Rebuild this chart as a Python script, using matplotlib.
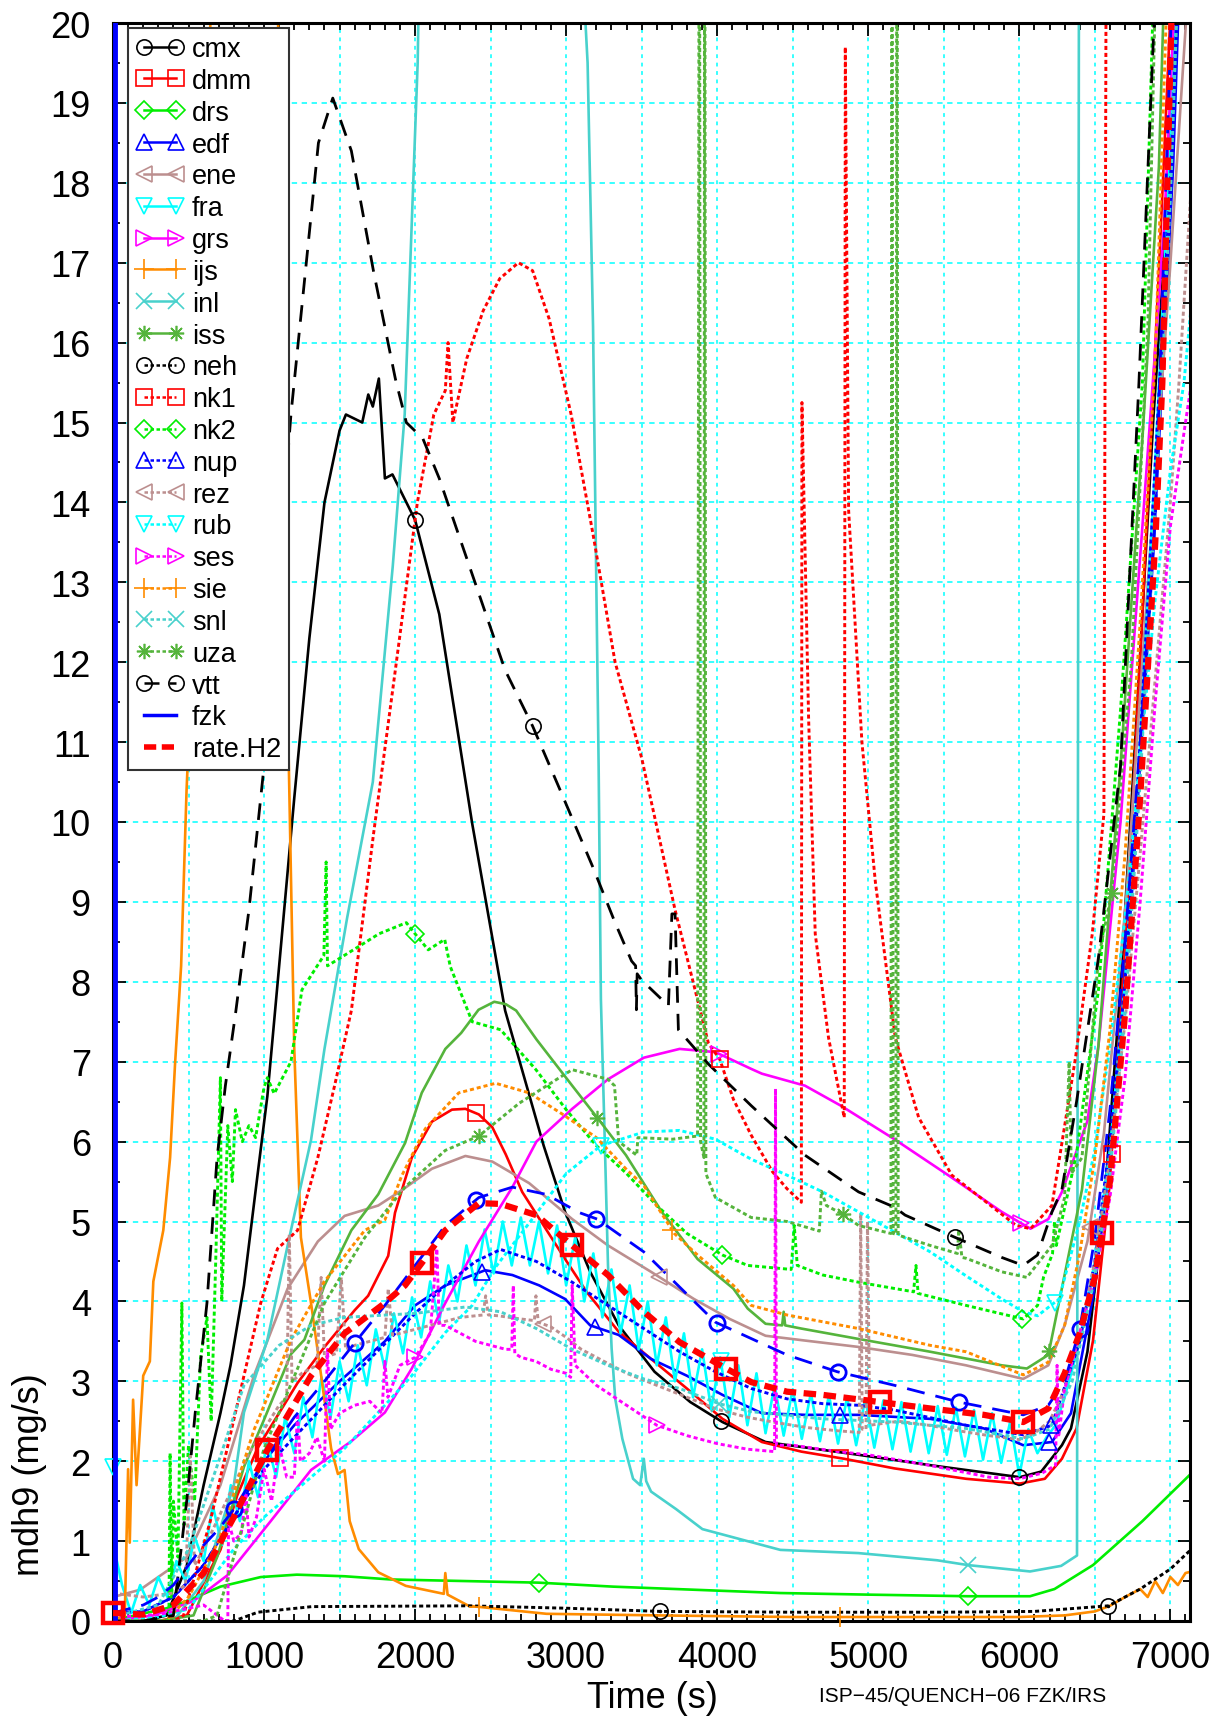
import numpy as np
import matplotlib
matplotlib.use('Agg')
import matplotlib.pyplot as plt
from matplotlib.lines import Line2D
from matplotlib.ticker import MultipleLocator

plt.rcParams['font.family'] = ['Liberation Sans', 'DejaVu Sans']

# ---------------- data (time s, mdh9 mg/s) ----------------
cmx_pts = [(0,0.0),(200,0.0),(356,0.07),(489,0.7),(600,1.7),(711,2.6),(778,3.2),(867,4.2),(956,5.57),
           (1022,6.57),(1100,8.2),(1200,10.3),(1300,12.3),(1400,14.0),(1500,14.9),(1542,15.1),(1650,15.0),
           (1690,15.35),(1720,15.2),(1760,15.55),(1800,14.3),(1850,14.35),(2000,13.78),(2160,12.6),(2378,9.98),
           (2596,7.64),(2732,6.74),(2851,5.95),(2993,5.12),(3159,4.37),(3348,3.7),(3585,3.12),(3822,2.74),
           (4035,2.49),(4320,2.24),(4936,2.08),(5410,1.95),(6003,1.8),(6145,1.87),(6282,2.2),(6342,2.41),
           (6451,3.37),(6560,5.16),(6669,7.9),(6778,11.36),(6888,15.07),(6975,17.5),(7033,20.5)]
cmx_mk = [2000, 4022, 6000]

dmm_pts = [(0,0.0),(300,0.0),(489,0.07),(711,0.89),(822,1.57),(956,2.16),(1222,2.98),(1400,3.43),(1600,3.89),
           (1689,4.07),(1822,4.57),(1867,5.11),(1978,5.8),(2111,6.25),(2244,6.4),(2333,6.41),(2422,6.34),
           (2511,6.18),(2600,5.84),(2709,5.37),(2851,4.95),(2993,4.53),(3135,4.12),(3348,3.62),(3562,3.28),
           (3799,2.91),(4035,2.53),(4296,2.24),(4557,2.12),(4841,2.03),(5173,1.91),(5647,1.78),(6003,1.72),
           (6169,1.78),(6282,2.03),(6379,2.41),(6488,3.51),(6597,5.44),(6706,8.6),(6815,12.6),(6924,16.9),(7010,20.5)]
dmm_mk = [2400, 4815, 6611]

drs_pts = [(0,0.02),(100,0.05),(356,0.16),(489,0.25),(711,0.43),(978,0.55),(1217,0.58),(1533,0.56),(1838,0.52),
           (2817,0.48),(3311,0.43),(4418,0.35),(5000,0.33),(5659,0.31),(6071,0.31),(6233,0.4),(6488,0.7),
           (6815,1.25),(7140,1.85)]
drs_mk = [2817, 5659]

edf_pts = [(0,0.1),(200,0.12),(400,0.3),(600,0.7),(800,1.3),(1000,2.0),(1200,2.45),(1500,3.0),(1800,3.5),
           (2000,3.95),(2200,4.2),(2464,4.39),(2644,4.33),(2822,4.2),(2993,4.03),(3159,3.7),(3348,3.58),
           (3562,3.28),(3799,3.07),(4035,2.83),(4296,2.6),(4581,2.58),(4936,2.58),(5410,2.53),(5766,2.41),
           (6026,2.2),(6216,2.24),(6342,2.6),(6488,4.06),(6597,5.7),(6742,9.0),(6888,13.4),(7018,18.2),(7060,20.5)]
edf_mk = [2440, 3193, 4815, 6197]

ene_pts = [(0,0.3),(178,0.39),(489,0.8),(711,1.7),(933,3.07),(1156,4.16),(1356,4.75),(1533,5.07),(1756,5.2),
           (1911,5.39),(2111,5.66),(2333,5.82),(2511,5.75),(2755,5.48),(3040,5.03),(3277,4.7),(3562,4.37),
           (3846,4.03),(4083,3.78),(4320,3.57),(4581,3.51),(4936,3.43),(5292,3.33),(5647,3.2),(6026,3.03),
           (6192,3.2),(6300,3.7),(6451,4.75),(6560,6.1),(6706,9.0),(6851,13.0),(6997,16.9),(7120,20.5)]
ene_mk = [3615, 6466]

fra_t = [0, 20] + list(range(60, 6181, 60)) + [6240, 6300, 6400, 6500, 6600, 6700, 6800, 6900, 7000, 7040]
fra_y = [1.93, 0.8,
         0.45, 0.10, 0.45, 0.20, 0.55, 0.30, 0.75, 0.50, 1.05, 0.75, 1.45, 0.95, 1.70, 1.25, 2.00, 1.55,
         2.25, 1.80, 2.55, 2.10, 2.80, 2.30, 3.05, 2.55, 3.25, 2.75, 3.45, 2.95, 3.65, 3.15, 3.85, 3.35,
         4.05, 3.55, 4.25, 3.75, 4.45, 4.00, 4.70, 4.20, 4.90, 4.35, 5.00, 4.45, 5.05, 4.45, 5.00, 4.35,
         4.95, 4.20, 4.80, 4.00, 4.60, 3.80, 4.40, 3.60, 4.20, 3.40, 4.00, 3.20, 3.80, 3.00, 3.60, 2.80,
         3.40, 2.65, 3.30, 2.55, 3.20, 2.45, 3.10, 2.35, 2.95, 2.32, 2.90, 2.28, 2.85, 2.25, 2.83, 2.22,
         2.80, 2.20, 2.78, 2.17, 2.76, 2.15, 2.74, 2.12, 2.71, 2.10, 2.69, 2.08, 2.67, 2.06, 2.64, 2.02,
         2.60, 1.98, 2.50, 1.82, 2.40, 2.10, 2.30,
         2.45, 2.8, 3.5, 4.5, 5.9, 8.0, 11.0, 14.5, 18.5, 20.5]
fra_mk = [0, 4024]

grs_pts = [(0,0.0),(267,0.07),(533,0.25),(756,0.57),(1044,1.25),(1311,1.89),(1578,2.25),(1800,2.61),
           (1978,3.16),(2200,3.98),(2422,4.75),(2644,5.43),(2803,6.0),(3040,6.41),(3277,6.78),(3514,7.05),
           (3751,7.16),(3988,7.12),(4225,6.91),(4296,6.85),(4581,6.7),(4818,6.45),(5173,6.03),(5529,5.58),
           (5884,5.12),(6074,4.91),(6192,5.03),(6282,5.37),(6451,6.26),(6524,7.2),(6670,10.0),(6815,13.7),
           (6960,17.5),(7033,20.5)]
grs_mk = [4015, 6014]

ijs_pts = [(0,0.0),(78,0.07),(100,1.9),(111,0.98),(133,2.77),(156,1.7),(200,3.07),(244,3.25),(267,4.25),
           (333,4.89),(378,5.8),(411,6.98),(451,8.2),(487,10.4),(524,12.0),(600,16.0),(650,20.5),(1090,20.5),
           (1130,14.0),(1156,11.5),(1200,7.16),(1244,4.8),(1311,3.98),(1378,3.07),(1444,2.16),(1489,1.84),
           (1533,1.89),(1567,1.25),(1627,0.9),(1756,0.61),(1938,0.44),(2190,0.34),(2200,0.6),(2215,0.33),
           (2354,0.19),(2870,0.09),(3615,0.07),(4500,0.05),(5500,0.05),(6000,0.05),(6300,0.07),(6500,0.12),
           (6600,0.19),(6700,0.3),(6800,0.4),(6850,0.3),(6900,0.5),(6950,0.35),(7000,0.55),(7050,0.45),
           (7100,0.6),(7140,0.62)]
ijs_mk = [2422, 4815]

inl_pts = [(0,0.0),(400,0.0),(600,0.5),(800,1.7),(867,2.61),(1022,3.52),(1178,4.89),(1311,6.02),(1400,7.16),
           (1550,8.8),(1720,10.5),(1852,13.2),(1931,15.1),(2017,19.5),(2030,21.0),(3100,21.0),(3142,19.5),
           (3178,16.2),(3215,10.7),(3230,7.78),(3254,6.12),(3277,4.45),(3301,3.41),(3325,2.78),(3372,2.28),
           (3443,1.78),(3490,1.7),(3514,2.03),(3530,1.75),(3562,1.62),(3728,1.4),(3902,1.15),(4418,0.89),
           (4934,0.85),(5456,0.76),(5659,0.7),(6071,0.62),(6277,0.69),(6382,0.82),(6395,21.0)]
inl_mk = [5659]

iss_pts = [(0,0.0),(300,0.0),(533,0.07),(689,0.8),(867,1.93),(1000,2.52),(1178,3.34),(1267,3.52),(1400,4.2),
           (1578,4.89),(1756,5.34),(1933,5.98),(2044,6.61),(2200,7.16),(2305,7.36),(2420,7.65),(2524,7.75),
           (2600,7.72),(2669,7.64),(2803,7.28),(3040,6.7),(3230,6.24),(3396,5.83),(3633,5.12),(3870,4.53),
           (4107,4.16),(4202,3.91),(4320,3.72),(4430,3.7),(4440,3.87),(4450,3.7),(4557,3.66),(4936,3.53),
           (5410,3.37),(5884,3.2),(6050,3.16),(6192,3.33),(6415,5.4),(6524,7.2),(6670,10.7),(6815,14.8),
           (6924,18.2),(6960,20.5)]
iss_mk = [3206, 6197]

neh_pts = [(0,0.0),(800,0.0),(959,0.11),(1317,0.18),(2354,0.19),(3000,0.16),(3624,0.12),(4500,0.11),
           (5500,0.11),(6100,0.12),(6590,0.19),(6800,0.4),(7000,0.65),(7140,0.9)]
neh_mk = [3624, 6590]

nk1_pts = [(0,0.0),(400,0.0),(467,0.07),(644,1.25),(756,2.16),(867,3.07),(978,3.98),(1089,4.66),(1222,4.89),
           (1356,5.8),(1467,6.7),(1578,7.64),(1724,9.84),(1869,11.9),(2015,14.0),(2124,15.1),(2200,15.4),
           (2218,16.0),(2250,15.0),(2342,15.8),(2451,16.4),(2560,16.8),(2684,17.0),(2778,16.9),(2887,16.3),
           (3033,15.1),(3178,13.6),(3324,12.0),(3500,10.8),(3721,8.9),(3942,7.23),(4017,7.03),(4107,6.53),
           (4225,6.08),(4367,5.62),(4462,5.41),(4557,5.24),(4561,15.25),(4605,11.3),(4649,8.6),(4737,7.3),
           (4841,6.3),(4848,19.7),(4870,13.9),(4958,11.0),(5047,9.25),(5179,7.3),(5334,6.3),(5553,5.58),
           (5979,4.95),(6074,4.91),(6216,5.2),(6372,7.05),(6483,8.6),(6560,10.1),(6575,21.0)]
nk1_mk = [4017]

nk2_pts = [(0,0.0),(370,0.0),(378,2.1),(389,0.3),(400,1.5),(430,0.8),(456,3.98),(470,1.2),(500,2.2),
           (540,1.5),(580,3.3),(622,3.8),(650,2.5),(680,4.5),(711,6.8),(720,4.0),(760,6.2),(790,5.5),
           (811,6.4),(856,6.0),(900,6.2),(944,6.05),(1000,6.68),(1022,6.8),(1067,6.6),(1178,7.0),(1251,7.9),
           (1396,8.33),(1411,9.5),(1420,8.2),(1651,8.47),(1760,8.6),(1942,8.74),(2000,8.6),(2087,8.4),
           (2196,8.53),(2233,8.19),(2378,7.5),(2566,7.4),(2800,6.9),(3000,6.4),(3200,5.95),(3400,5.6),
           (3600,5.2),(3800,4.85),(4035,4.58),(4202,4.45),(4490,4.4),(4510,4.95),(4530,4.45),(4699,4.33),
           (4936,4.24),(5300,4.12),(5316,4.45),(5330,4.1),(5647,3.95),(6026,3.78),(6121,3.95),(6160,4.3),
           (6220,4.6),(6233,5.0),(6245,4.7),(6379,5.85),(6524,7.9),(6670,11.4),(6815,15.5),(6890,20.5)]
nk2_mk = [2000, 4035, 6015]

nup_pts = [(0,0.1),(200,0.12),(400,0.3),(600,0.7),(800,1.3),(1000,1.9),(1500,2.9),(2000,3.85),(2200,4.2),
           (2400,4.5),(2566,4.65),(2803,4.5),(3040,4.24),(3277,3.95),(3514,3.66),(3751,3.37),(3988,3.12),
           (4225,2.91),(4462,2.78),(4699,2.72),(4936,2.7),(5173,2.64),(5647,2.45),(6026,2.33),(6216,2.45),
           (6400,3.5),(6500,4.5),(6600,6.0),(6700,8.0),(6800,11.0),(6900,14.5),(7000,18.0),(7050,20.5)]
nup_mk = [6213]

rez_pts = [(0,0.35),(200,0.3),(400,0.35),(480,0.45),(511,2.07),(540,0.7),(600,0.9),(700,1.3),(800,1.7),
           (900,2.1),(1000,2.4),(1100,2.7),(1150,2.8),(1167,4.84),(1185,3.0),(1250,3.1),(1350,3.2),(1378,4.3),
           (1400,3.3),(1480,3.35),(1511,4.3),(1540,3.4),(1600,3.45),(1700,3.5),(1800,3.55),(1822,4.16),
           (1850,3.58),(1900,3.6),(2000,3.65),(2100,3.7),(2200,3.75),(2300,3.8),(2400,3.82),(2450,3.83),
           (2467,4.07),(2485,3.83),(2550,3.82),(2700,3.78),(2790,3.76),(2800,4.07),(2815,3.74),(2900,3.68),
           (3000,3.55),(3100,3.4),(3200,3.3),(3400,3.1),(3600,2.95),(3800,2.8),(4000,2.65),(4200,2.55),
           (4400,2.48),(4600,2.42),(4800,2.38),(4940,2.36),(4950,5.1),(4960,2.4),(4985,2.4),(4995,5.0),
           (5010,2.45),(5200,2.5),(5400,2.45),(5600,2.38),(5800,2.32),(6000,2.27),(6100,2.35),(6200,2.5),
           (6300,2.9),(6400,3.6),(6500,4.5),(6600,5.8),(6700,7.5),(6800,9.6),(6900,11.8),(7000,14.0),
           (7057,15.5),(7140,18.0)]
rez_mk = [2844]

rub_pts = [(0,0.0),(300,0.05),(500,0.15),(600,0.4),(800,0.9),(1000,1.3),(1250,1.7),(1533,2.16),(1800,2.7),
           (1978,3.07),(2200,3.61),(2378,3.95),(2533,4.43),(2755,4.98),(3000,5.6),(3230,5.95),(3514,6.12),
           (3751,6.14),(3988,6.03),(4225,5.78),(4462,5.58),(4699,5.37),(4936,5.12),(5173,4.87),(5410,4.62),
           (5647,4.32),(5884,4.03),(6026,3.87),(6121,3.82),(6263,4.03),(6400,5.0),(6500,5.9),(6600,7.2),
           (6700,8.8),(6800,10.8),(6900,12.8),(7000,14.4),(7090,15.5),(7140,16.5)]
rub_mk = [3230, 6233]

ses_pts = [(0,0.05),(300,0.08),(600,0.2),(740,0.0),(760,0.0),(765,1.25),(800,1.0),(850,1.1),(880,1.6),
           (900,1.05),(950,1.3),(1000,1.9),(1050,1.5),(1100,2.2),(1150,1.8),(1200,1.8),(1222,2.6),(1240,2.0),
           (1300,2.1),(1350,2.3),(1400,2.0),(1420,3.4),(1440,2.4),(1500,2.6),(1600,2.7),(1700,2.75),
           (1780,2.6),(1800,3.25),(1820,2.8),(1900,3.2),(2000,3.3),(2100,3.6),(2144,4.66),(2160,3.7),
           (2200,3.7),(2300,3.6),(2400,3.5),(2500,3.45),(2600,3.4),(2640,3.4),(2650,4.2),(2660,3.35),
           (2700,3.3),(2800,3.25),(2900,3.15),(3000,3.1),(3030,3.05),(3040,4.2),(3060,3.2),(3200,2.95),
           (3400,2.7),(3600,2.45),(3800,2.32),(4000,2.22),(4200,2.15),(4380,2.12),(4386,6.66),(4392,2.2),
           (4500,2.2),(4800,2.12),(5000,2.08),(5400,1.95),(5800,1.8),(6000,1.78),(6150,1.85),(6240,1.95),
           (6250,3.2),(6260,2.3),(6300,2.9),(6400,3.6),(6500,4.3),(6600,5.3),(6700,6.8),(6800,9.0),
           (6900,11.5),(7000,13.7),(7100,15.0),(7140,15.5)]
ses_mk = [2000, 3600]

sie_pts = [(0,0.0),(350,0.0),(500,0.3),(700,1.0),(933,2.39),(1178,3.52),(1400,4.25),(1667,4.89),(1800,5.02),
           (1911,5.57),(2067,6.16),(2289,6.61),(2533,6.73),(2755,6.61),(2978,6.34),(3200,6.05),(3400,5.65),
           (3514,5.45),(3716,4.85),(3870,4.58),(4107,4.2),(4225,3.95),(4462,3.83),(4936,3.66),(5410,3.45),
           (5647,3.37),(6026,3.08),(6192,3.24),(6300,3.7),(6400,4.6),(6500,5.8),(6600,7.4),(6700,9.6),
           (6800,12.5),(6900,15.8),(6980,20.5)]
sie_mk = [3700]

snl_pts = [(0,0.05),(300,0.2),(500,0.9),(700,2.0),(867,2.95),(1100,3.45),(1311,3.7),(1533,3.8),(2000,3.85),
           (2333,3.93),(2566,3.87),(2803,3.66),(3040,3.4),(3277,3.2),(3514,3.03),(3751,2.91),(4012,2.72),
           (4225,2.62),(4699,2.53),(5173,2.49),(5647,2.41),(6026,2.28),(6200,2.4),(6350,3.0),(6500,4.3),
           (6600,5.6),(6700,7.6),(6800,10.5),(6900,14.0),(7000,17.8),(7050,20.5)]
snl_mk = [4012]

uza_pts = [(0,0.0),(600,0.0),(689,0.07),(867,1.25),(1000,2.16),(1222,3.16),(1400,3.98),(1667,4.8),(1933,5.43),
           (2200,5.89),(2422,6.07),(2689,6.48),(2955,6.8),(3040,6.9),(3277,6.78),(3320,6.7),(3348,6.0),
           (3467,5.83),(3475,6.05),(3704,6.03),(3870,6.07),(3882,25.0),(3890,6.0),(3912,5.8),(3917,25.0),
           (3925,5.6),(3988,5.3),(4225,5.05),(4462,5.0),(4676,4.88),(4690,5.38),(4723,5.2),(4841,5.08),
           (4936,4.95),(5150,4.85),(5157,25.0),(5165,4.85),(5183,4.84),(5190,25.0),(5198,4.83),(5410,4.7),
           (5590,4.6),(5600,4.9),(5620,4.55),(5647,4.54),(5884,4.37),(6050,4.3),(6216,4.7),(6300,5.3),
           (6330,7.0),(6345,5.6),(6415,5.8),(6524,8.3),(6611,9.11),(6742,12.0),(6851,16.2),(6902,20.5)]
uza_mk = [2420, 4830, 6611]

vtt_pts = [(0,0.0),(200,0.0),(400,0.07),(489,1.52),(544,2.6),(622,3.98),(689,5.8),(744,6.7),(811,7.6),
           (900,8.9),(1000,10.7),(1178,15.1),(1360,18.5),(1455,19.06),(1578,18.4),(1724,16.9),(1869,15.55),
           (1942,15.0),(2051,14.8),(2160,14.3),(2378,13.1),(2596,11.9),(2778,11.2),(2960,10.4),(3178,9.43),
           (3324,8.74),(3433,8.26),(3460,8.2),(3465,7.65),(3470,8.1),(3500,8.02),(3677,7.7),(3700,8.85),
           (3721,8.85),(3743,7.4),(3942,6.97),(4225,6.45),(4581,5.83),(4936,5.37),(5173,5.18),(5244,5.08),
           (5576,4.8),(5884,4.55),(6026,4.45),(6120,4.58),(6216,5.12),(6282,5.4),(6379,6.5),(6524,8.3),
           (6670,10.7),(6792,15.5),(6903,20.5)]
vtt_mk = [2778, 5576]

fzk_pts = [(12,0.0),(12,25.0)]

edf2_pts = [(0,0.1),(100,0.15),(200,0.2),(300,0.3),(400,0.45),(500,0.7),(600,0.95),(700,1.15),(800,1.4),
            (1000,2.0),(1200,2.55),(1400,3.0),(1600,3.48),(1800,3.95),(2000,4.45),(2200,4.95),(2422,5.3),
            (2644,5.43),(2867,5.34),(3089,5.11),(3206,5.03),(3514,4.62),(3988,3.74),(4462,3.33),(4794,3.12),
            (5173,2.95),(5600,2.74),(6026,2.58),(6192,2.7),(6300,3.0),(6400,3.65),(6500,4.8),(6600,6.4),
            (6700,8.5),(6800,11.0),(6900,13.8),(7013,20.5)]
edf2_mk = [800, 1600, 2400, 3200, 4000, 4800, 5600, 6400]

rate_pts = [(0,0.1),(200,0.08),(400,0.2),(600,0.6),(800,1.3),(1022,2.14),(1311,3.07),(1533,3.6),(1800,3.98),
            (1933,4.2),(2044,4.48),(2200,4.89),(2422,5.23),(2566,5.22),(2803,5.08),(3040,4.7),(3277,4.33),
            (3514,3.87),(3751,3.49),(4059,3.16),(4225,2.99),(4462,2.87),(4699,2.83),(5078,2.74),(5410,2.66),
            (5766,2.58),(6026,2.49),(6192,2.66),(6300,3.1),(6400,3.6),(6500,4.3),(6600,5.5),(6700,7.6),
            (6800,10.3),(6900,13.5),(6947,15.5),(7013,20.5)]
rate_mk = [0, 1022, 2044, 3040, 4059, 5078, 6026, 6546]

# ---------------- styling ----------------
BLACK, RED, GREEN, BLUE = '#000000', '#ff0000', '#00ee00', '#0000ff'
ROSY, CYAN, MAG, ORANGE = '#bc8f8f', '#00ffff', '#ff00ff', '#ff8c00'
TURQ, YGREEN = '#48d1cc', '#55b43c'
SOLID = '-'
DOT = (0, (1.4, 1.0))
AST = (8, 2, 0)

series = [
    ('cmx', cmx_pts, cmx_mk, BLACK, SOLID, 'o'),
    ('dmm', dmm_pts, dmm_mk, RED, SOLID, 's'),
    ('drs', drs_pts, drs_mk, GREEN, SOLID, 'D'),
    ('edf', edf_pts, edf_mk, BLUE, SOLID, '^'),
    ('ene', ene_pts, ene_mk, ROSY, SOLID, '<'),
    ('fra', list(zip(fra_t, fra_y)), fra_mk, CYAN, SOLID, 'v'),
    ('grs', grs_pts, grs_mk, MAG, SOLID, '>'),
    ('ijs', ijs_pts, ijs_mk, ORANGE, SOLID, '+'),
    ('inl', inl_pts, inl_mk, TURQ, SOLID, 'x'),
    ('iss', iss_pts, iss_mk, YGREEN, SOLID, AST),
    ('neh', neh_pts, neh_mk, BLACK, DOT, 'o'),
    ('nk1', nk1_pts, nk1_mk, RED, DOT, 's'),
    ('nk2', nk2_pts, nk2_mk, GREEN, DOT, 'D'),
    ('nup', nup_pts, nup_mk, BLUE, DOT, '^'),
    ('rez', rez_pts, rez_mk, ROSY, DOT, '<'),
    ('rub', rub_pts, rub_mk, CYAN, DOT, 'v'),
    ('ses', ses_pts, ses_mk, MAG, DOT, '>'),
    ('sie', sie_pts, sie_mk, ORANGE, DOT, '+'),
    ('snl', snl_pts, snl_mk, TURQ, DOT, 'x'),
    ('uza', uza_pts, uza_mk, YGREEN, DOT, AST),
    ('vtt', vtt_pts, vtt_mk, BLACK, (0, (6.0, 4.0)), 'o'),
]

W, H = 1218, 1724
fig = plt.figure(figsize=(W / 100, H / 100), dpi=100)
ax = fig.add_axes([113 / W, 1 - 1622 / H, (1190 - 113) / W, (1622 - 24) / H])
ax.set_xlim(0, 7130)
ax.set_ylim(0, 20)

# grid
for g in range(500, 7001, 500):
    ax.axvline(g, color=CYAN, lw=1.1, ls=(0, (2.5, 3)), zorder=0.5)
for g in range(1, 20):
    ax.axhline(g, color=CYAN, lw=1.1, ls=(0, (3.5, 3)), zorder=0.5)

handles = []
MS = 11
for name, pts, mk, col, ls, m in series:
    t = np.array([p[0] for p in pts], float)
    y = np.array([p[1] for p in pts], float)
    lw = 1.9 if ls == SOLID else 2.1
    if name == 'vtt':
        lw = 2.0
    ax.plot(t, y, color=col, lw=lw, ls=ls, zorder=2)
    ms = MS if m not in ('D',) else 9
    if m == '+':
        ms = 14
    my = np.interp(mk, t, y)
    ax.plot(mk, my, ls='none', marker=m, ms=ms, mfc='none', mec=col, mew=1.2, zorder=3, clip_on=False)
    if name == 'neh':
        ax.plot(mk, my, ls='none', marker='.', ms=3, color=col, zorder=3)
    handles.append(Line2D([], [], color=col, lw=min(lw, 1.8), ls=ls, marker=m, ms=ms, mfc='none', mec=col,
                          mew=1.2, label=name))

# unlabeled blue dashed with circles
t = np.array([p[0] for p in edf2_pts], float)
y = np.array([p[1] for p in edf2_pts], float)
ax.plot(t, y, color=BLUE, lw=2.0, ls=(0, (6.5, 4)), zorder=2.5)
ax.plot(edf2_mk, np.interp(edf2_mk, t, y), ls='none', marker='o', ms=11, mfc='none', mec=BLUE, mew=2.0, zorder=3)

# fzk
t = np.array([p[0] for p in fzk_pts], float)
y = np.array([p[1] for p in fzk_pts], float)
ax.plot(t, y, color=BLUE, lw=3.5, zorder=4)
handles.append(Line2D([], [], color=BLUE, lw=2.5, label='fzk'))

# rate.H2
t = np.array([p[0] for p in rate_pts], float)
y = np.array([p[1] for p in rate_pts], float)
ax.plot(t, y, color=RED, lw=4.5, ls=(0, (2.0, 1.2)), zorder=5)
ax.plot(rate_mk, np.interp(rate_mk, t, y), ls='none', marker='s', ms=14, mfc='none', mec=RED, mew=3.2,
        zorder=5, clip_on=False)
handles.append(Line2D([], [], color=RED, lw=4.0, ls=(0, (2.2, 1.0)), label='rate.H2'))

# axes styling
ax.xaxis.set_major_locator(MultipleLocator(1000))
ax.xaxis.set_minor_locator(MultipleLocator(100))
ax.yaxis.set_major_locator(MultipleLocator(1))
ax.yaxis.set_minor_locator(MultipleLocator(0.5))
ax.tick_params(which='both', direction='in', top=True, right=True, width=1.3)
ax.tick_params(which='major', length=9, labelsize=26)
ax.tick_params(which='minor', length=5)
ax.tick_params(axis='x', which='major', pad=14)
ax.tick_params(axis='y', which='major', pad=16)
for s in ax.spines.values():
    s.set_linewidth(2.2)

leg = ax.legend(handles=handles, loc='upper left', bbox_to_anchor=(15 / 1077, 1 - 5 / 1598),
                borderaxespad=0, numpoints=2, handlelength=1.78, handletextpad=0.28, labelspacing=0.215,
                fontsize=19.5, frameon=True, fancybox=False, framealpha=1, edgecolor='#333333',
                borderpad=0.3)
leg.get_frame().set_linewidth(1.5)
leg.set_zorder(10)

fig.text(30 / W, 1 - 1475 / H, 'mdh9 (mg/s)', rotation=90, ha='center', va='center', fontsize=26)
fig.text(652 / W, 1 - 1699 / H, 'Time (s)', ha='center', va='center', fontsize=26)
fig.text(963 / W, 1 - 1697 / H, 'ISP\u221245/QUENCH\u221206 FZK/IRS', ha='center', va='center', fontsize=15)

fig.savefig('out.png', dpi=100)
